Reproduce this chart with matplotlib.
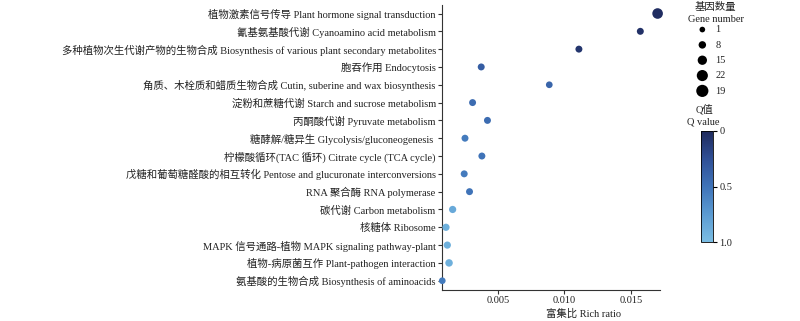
import matplotlib
matplotlib.use('Agg')
import matplotlib.pyplot as plt
from matplotlib.colors import LinearSegmentedColormap
from matplotlib.cm import ScalarMappable
from matplotlib.colors import Normalize

plt.rcParams['font.family'] = ['Liberation Serif', 'Noto Sans CJK SC']
plt.rcParams['font.size'] = 7.5

# pathways, top to bottom
pathways = [
    '植物激素信号传导 Plant hormone signal transduction',
    '氰基氨基酸代谢 Cyanoamino acid metabolism',
    '多种植物次生代谢产物的生物合成 Biosynthesis of various plant secondary metabolites',
    '胞吞作用 Endocytosis',
    '角质、木栓质和蜡质生物合成 Cutin, suberine and wax biosynthesis',
    '淀粉和蔗糖代谢 Starch and sucrose metabolism',
    '丙酮酸代谢 Pyruvate metabolism',
    '糖酵解/糖异生 Glycolysis/gluconeogenesis ',
    '柠檬酸循环(TAC 循环) Citrate cycle (TCA cycle)',
    '戊糖和葡萄糖醛酸的相互转化 Pentose and glucuronate interconversions',
    'RNA 聚合酶 RNA polymerase',
    '碳代谢 Carbon metabolism',
    '核糖体 Ribosome',
    'MAPK 信号通路-植物 MAPK signaling pathway-plant',
    '植物-病原菌互作 Plant-pathogen interaction',
    '氨基酸的生物合成 Biosynthesis of aminoacids',
]
rich_ratio = [0.01702, 0.01572, 0.01110, 0.00375, 0.00887, 0.00310, 0.00422, 0.00253,
              0.00380, 0.00247, 0.00287, 0.00160, 0.00110, 0.00120, 0.00133, 0.00082]
q_value = [0.02, 0.05, 0.08, 0.35, 0.40, 0.45, 0.45, 0.55,
           0.50, 0.55, 0.50, 0.85, 0.90, 0.90, 0.90, 0.55]
gene_number = [20, 6, 6, 6, 5, 6, 6, 6, 6, 6, 6, 7, 7, 7, 8, 5]

legend_labels = ['1', '8', '15', '22', '19']
legend_genes = [1, 8, 15, 22, 26]


def gene_to_size(g):
    d = (5.4 + 0.26 * g) * 0.72
    return d * d


cmap = LinearSegmentedColormap.from_list('q', ['#1f2a5c', '#2f4f96', '#3f73b8', '#5b9bd2', '#7bbde3'])
norm = Normalize(0, 1)
txt = '#222222'

fig = plt.figure(figsize=(8, 3.21), dpi=100)
ax = fig.add_axes([0.5525, 0.0966, 0.2725, 0.8874])

ypos = list(range(len(pathways)))[::-1]
ax.scatter(rich_ratio, ypos, s=[gene_to_size(g) for g in gene_number],
           c=q_value, cmap=cmap, norm=norm, edgecolors='none', zorder=3, clip_on=False)

ax.set_yticks(ypos)
ax.set_yticklabels(pathways, color=txt)
ax.set_ylim(-0.52, len(pathways) - 0.53)
ax.set_xlim(0.0008, 0.0172)
ax.set_xticks([0.005, 0.010, 0.015])
ax.set_xticklabels(['0.005', '0.010', '0.015'], color=txt)
ax.tick_params(axis='both', length=3, width=0.8, pad=1.5, color='#333333')
for side in ['top', 'right']:
    ax.spines[side].set_visible(False)
for side in ['left', 'bottom']:
    ax.spines[side].set_color('#333333')
    ax.spines[side].set_linewidth(0.8)
ax.set_xlabel('富集比 Rich ratio', color=txt)
ax.xaxis.set_label_coords(0.647, -0.065)

# size legend
fig.text(715 / 800, 1 - 7 / 321, '基因数量', ha='center', va='center', color=txt)
fig.text(716 / 800, 1 - 20 / 321, 'Gene number', ha='center', va='center', color=txt)
handles = [ax.scatter([], [], s=gene_to_size(g), color='black', edgecolors='none') for g in legend_genes]
leg = fig.legend(handles, legend_labels, frameon=False,
                 loc='upper left', bbox_to_anchor=(694 / 800, 1 - 25 / 321), labelspacing=0.58,
                 handletextpad=0.45, borderpad=0.0, borderaxespad=0.0, handlelength=1.6)
for t in leg.get_texts():
    t.set_color(txt)

# Q value colorbar
fig.text(705 / 800, 1 - 109 / 321, 'Q值', ha='center', va='center', color=txt)
fig.text(703 / 800, 1 - 122 / 321, 'Q value', ha='center', va='center', color=txt)
cax = fig.add_axes([0.876, 0.246, 0.0155, 0.346])
sm = ScalarMappable(norm=norm, cmap=cmap)
cb = fig.colorbar(sm, cax=cax, ticks=[0, 0.5, 1.0])
cb.ax.set_yticklabels(['0', '0.5', '1.0'], color=txt)
cb.ax.invert_yaxis()
cb.outline.set_linewidth(0.6)
cb.ax.tick_params(length=3, width=0.8, pad=1.5)

fig.savefig('out.png', dpi=100)
